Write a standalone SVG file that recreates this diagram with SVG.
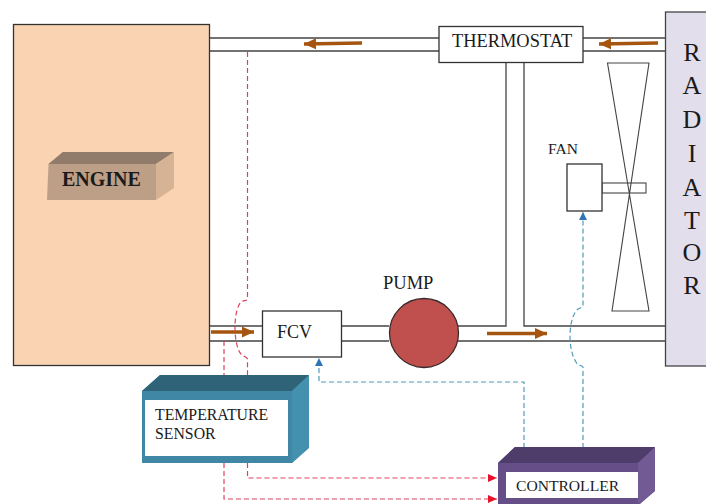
<svg xmlns="http://www.w3.org/2000/svg" width="706" height="504" viewBox="0 0 706 504">
<defs>
<marker id="ab" markerUnits="userSpaceOnUse" markerWidth="10" markerHeight="10" refX="8" refY="4.500" orient="auto"><path d="M0,0.500L8,4.500L0,8.500Z" fill="#2e75b6"/></marker>
<marker id="ar" markerUnits="userSpaceOnUse" markerWidth="10" markerHeight="10" refX="9" refY="4.500" orient="auto"><path d="M0,0.500L9,4.500L0,8.500Z" fill="#e8122a"/></marker>
<marker id="ah" markerUnits="userSpaceOnUse" markerWidth="13" markerHeight="13" refX="12" refY="6" orient="auto"><path d="M0,0.500L12,6L0,11.500Z" fill="#a5550f"/></marker>
</defs>
<style>
.t{font-family:"Liberation Serif","Times New Roman",serif;fill:#1a1a1a}
.p{fill:none;stroke:#444;stroke-width:1.3}
.box{fill:#fff;stroke:#333;stroke-width:1.3}
.red{fill:none;stroke:#e0405f;stroke-width:1.2;stroke-dasharray:5 3}
.blue{fill:none;stroke:#4f9bbb;stroke-width:1.2;stroke-dasharray:5 3}
.flow{fill:none;stroke:#a5550f;stroke-width:3.6;marker-end:url(#ah)}
</style>
<g id="pipes">
<path class="p" d="M209 38H439M209 51H439M553 38H665M553 51H665"/>
<path class="p" d="M506 63V326H458M524 63V326H665M209 326H262M209 341H262M342 326H389M342 341H389M458 341H665"/>
</g>
<g id="engine">
<rect x="13.500" y="24.500" width="196" height="341" fill="#fad4b2" stroke="#333" stroke-width="1.300"/>
<path d="M47 200L48.500 164L63 152H174L156 164V200Z" fill="#bd9f87"/>
<path d="M48.500 164L63 152H174L156 164Z" fill="#917c6b"/>
<path d="M156 164L174 152V188L156 200Z" fill="#d5b394"/>
<text class="t" x="62" y="186" font-size="20" font-weight="bold">ENGINE</text>
</g>
<g id="thermostat">
<rect class="box" x="439" y="26.500" width="144" height="36"/>
<text class="t" x="452" y="47" font-size="18.400">THERMOSTAT</text>
</g>
<g id="radiator">
<rect x="665.500" y="12" width="45" height="354" fill="#e2deeb" stroke="#444" stroke-width="1.300"/>
<g class="t" font-size="26" text-anchor="middle">
<text x="692" y="61">R</text><text x="692" y="94">A</text><text x="692" y="128">D</text><text x="692" y="162">I</text><text x="692" y="196">A</text><text x="692" y="229">T</text><text x="692" y="261">O</text><text x="692" y="294">R</text>
</g>
</g>
<g id="fan">
<rect x="602" y="183" width="44" height="10" fill="#fff" stroke="#444" stroke-width="1.100"/>
<path d="M607.500 63H649L612 311H649Z" fill="none" stroke="#444" stroke-width="1.100"/>
<rect class="box" x="567" y="164" width="35" height="47"/>
<text class="t" x="548" y="154" font-size="15.500">FAN</text>
</g>
<g id="fcv">
<rect class="box" x="262.500" y="311" width="79" height="46"/>
<text class="t" x="277" y="338" font-size="18">FCV</text>
</g>
<g id="pump">
<circle cx="424" cy="333" r="34.500" fill="#c0504d" stroke="#3a2a2a" stroke-width="1.300"/>
<text class="t" x="383" y="289" font-size="18.500">PUMP</text>
</g>
<g id="connectors">
<path class="flow" d="M362 43L304 44"/>
<path class="flow" d="M658 43L599 44"/>
<path class="flow" d="M211 332H254"/>
<path class="flow" d="M487 333.500H547"/>
<path class="red" d="M247.500 52V299C247 301 244 300 241 302C233 310 233 345 241 354C244 357 247 357 247.500 359V390"/>
<path class="red" d="M224 341V376"/>
<path class="red" d="M247.500 463V478H497" marker-end="url(#ar)"/>
<path class="red" d="M224 463V499H497" marker-end="url(#ar)"/>
<path class="blue" d="M524 448V382H319V358" marker-end="url(#ab)"/>
<path class="blue" d="M583 448V367C582 365 578 366 576 362C568 350 568 322 576 311C578 308 582 308 583 306V212" marker-end="url(#ab)"/>
</g>
<g id="temperature-sensor">
<path d="M142 391L160 375H309V448L292 463H142Z" fill="#3f87a4"/>
<path d="M142 391L160 375H309L292 391Z" fill="#2f6478"/>
<path d="M292 391L309 375V447L292 463Z" fill="#4391af"/>
<rect x="145" y="400" width="143" height="56" fill="#fff"/>
<text class="t" x="155" y="420" font-size="15.800">TEMPERATURE</text>
<text class="t" x="155" y="439" font-size="15.800">SENSOR</text>
</g>
<g id="controller">
<path d="M498 463L515 447H655V491L640 504H498Z" fill="#664f88"/>
<path d="M498 463L515 447H655L638 463Z" fill="#4e3c6b"/>
<path d="M638 463L655 447V491L638 504Z" fill="#725b95"/>
<rect x="506" y="472" width="132" height="26" fill="#fff"/>
<text class="t" x="516" y="491" font-size="15.600">CONTROLLER</text>
</g>
</svg>
